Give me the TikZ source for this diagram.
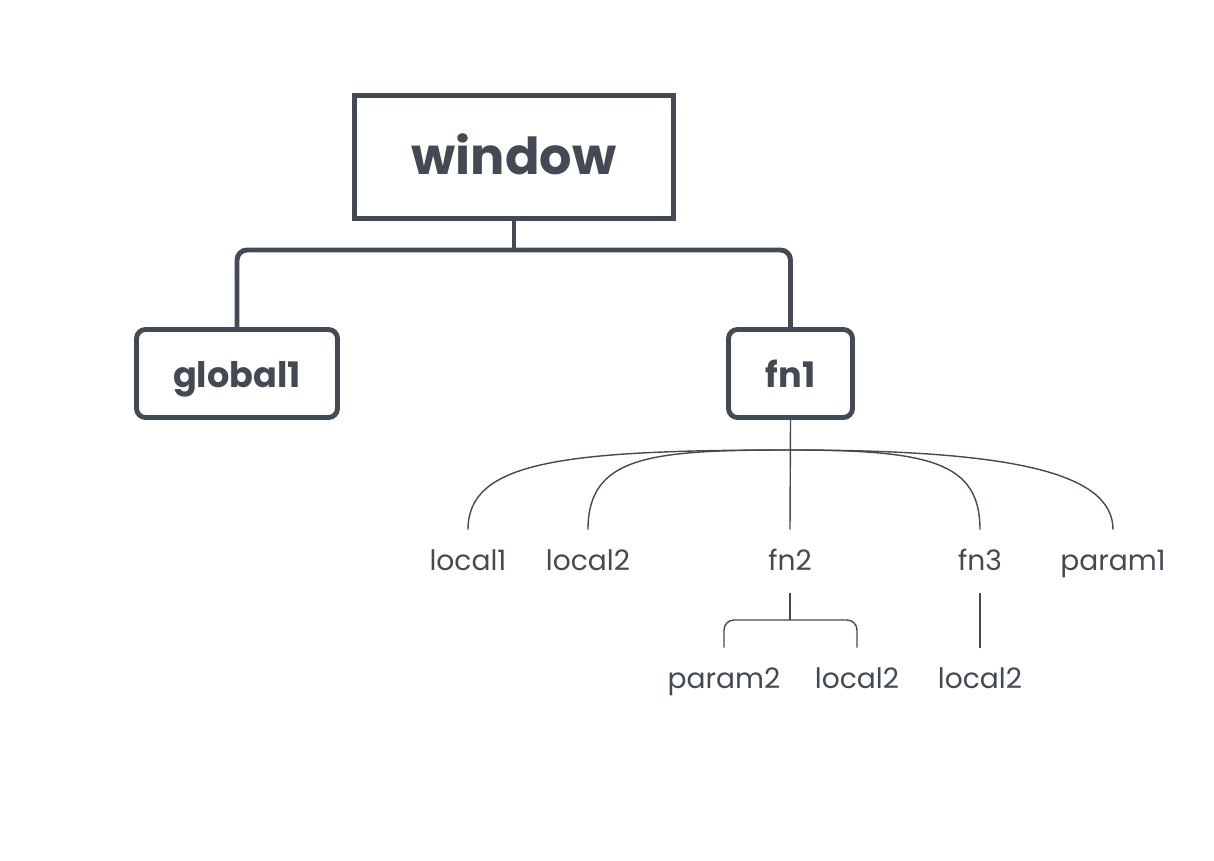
\documentclass[tikz,border=0pt]{standalone}
\usepackage{fontspec}
\setmainfont{Poppins}
\usetikzlibrary{calc}
\definecolor{ink}{HTML}{434A53}
\tikzset{
	heavy/.style={draw=ink, line width=2.8pt},
	light/.style={draw=ink, line width=0.8pt},
	rootbox/.style={heavy, minimum width=6.38cm, minimum height=2.46cm, text height=0.68cm, text depth=0cm, font=\fontsize{29}{34}\selectfont\bfseries, text=ink},
	scopebox/.style={heavy, rounded corners=0.18cm, minimum height=1.76cm, text height=0.54cm, text depth=0cm, font=\fontsize{20}{24}\selectfont\bfseries, text=ink},
	leaf/.style={anchor=base, inner sep=0pt, text height=0.8cm, text depth=0.46cm, font=\fontsize{16}{19}\selectfont, text=ink}
}
\begin{document}
\begin{tikzpicture}[x=0.02cm, y=-0.02cm]
	\useasboundingbox (0,0) rectangle (1214,860);
	\node[rootbox] (window) at (514,157) {window};
	\node[scopebox, minimum width=4.02cm] (global1) at (237,373.5) {global1};
	\node[scopebox, minimum width=2.48cm] (fn1) at (790.5,373.5) {fn1};
%
	\coordinate (hub) at (514,250);
	\draw[heavy] (window.south) -- (hub);
	\draw[heavy, rounded corners=0.2cm] (global1.north) |- (hub) -| (fn1.north);
%
	\node[leaf] (local1) at (468,570) {local1};
	\node[leaf] (local2) at (588,570) {local2};
	\node[leaf] (fn2) at (790,570) {fn2};
	\node[leaf] (fn3) at (980,570) {fn3};
	\node[leaf] (param1) at (1113,570) {param1};
	\node[leaf] (param2) at (724,688) {param2};
	\node[leaf] (local2b) at (857,688) {local2};
	\node[leaf] (local2c) at (980,688) {local2};
%
	\coordinate (split) at (790,450);
	\draw[light] (fn1.south) -- (fn2.north);
	\draw[light] (split) .. controls (560,450) and (468,462) .. (local1.north);
	\draw[light] (split) .. controls (650,450) and (588,456) .. (local2.north);
	\draw[light] (split) .. controls (930,450) and (980,462) .. (fn3.north);
	\draw[light] (split) .. controls (1010,450) and (1113,472) .. (param1.north);
%
	\coordinate (fork) at (790,620);
	\draw[light] (fn2.south) -- (fork);
	\draw[light, rounded corners=0.2cm] (param2.north) |- (fork) -| (local2b.north);
	\draw[light] (fn3.south) -- (local2c.north);
\end{tikzpicture}
\end{document}
